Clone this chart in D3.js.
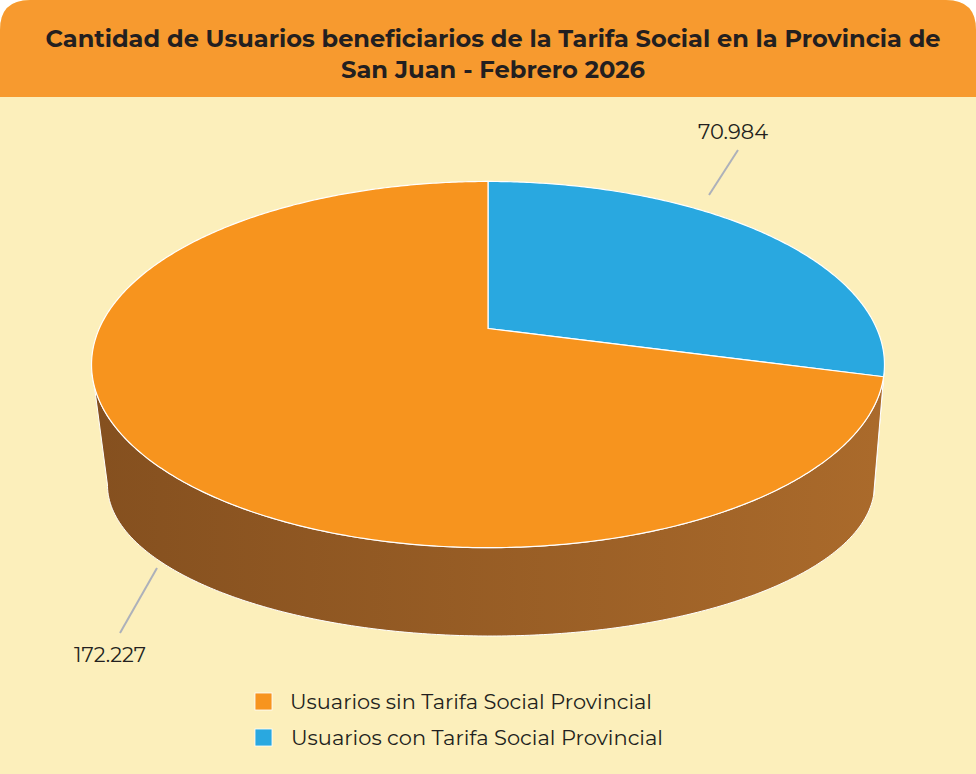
<!DOCTYPE html>
<html lang="es">
<head>
    <meta charset="UTF-8">
    <title>Tarifa Social San Juan</title>
    <script src="https://cdn.jsdelivr.net/npm/d3@7/dist/d3.min.js"></script>
    <style>
        body { margin: 0; background: #ffffff; }
        text { font-family: "Montserrat", "Open Sans", "Noto Sans", sans-serif; fill: #231f20; }
    </style>
</head>
<body>
    <svg width="976" height="774" id="mainsvg"></svg>
    <script>
        // datos
        const categories = ['Usuarios sin Tarifa Social Provincial', 'Usuarios con Tarifa Social Provincial']
        const values = [172227, 70984]
        const valueLabels = ['172.227', '70.984']
        const colors = ['#f7941e', '#29a8e0']
        const wallColors = [['#85501f', '#aa6a2b'], ['#16688c', '#1f86b4']]
        const titleLines = ['Cantidad de Usuarios beneficiarios de la Tarifa Social en la Provincia de', 'San Juan - Febrero 2026']

        const svg = d3.select('#mainsvg')
        const width = +svg.attr('width')
        const height = +svg.attr('height')

        // tarjeta
        const r = 30
        svg.append('path')
            .attr('d', `M0,${r} Q0,0 ${r},0 L${width - r},0 Q${width},0 ${width},${r} L${width},${height} L0,${height} Z`)
            .attr('fill', '#fcefbb')
        svg.append('path')
            .attr('d', `M0,${r} Q0,0 ${r},0 L${width - r},0 Q${width},0 ${width},${r} L${width},97 L0,97 Z`)
            .attr('fill', '#f79a2f')

        svg.selectAll('.title').data(titleLines).join('text')
            .attr('class', 'title')
            .attr('x', 493)
            .attr('y', (d, i) => 47 + i * 31)
            .attr('text-anchor', 'middle')
            .attr('font-size', 24)
            .attr('font-weight', 700)
            .attr('textLength', (d, i) => i === 0 ? 895 : 304)
            .attr('lengthAdjust', 'spacingAndGlyphs')
            .text(d => d)

        // proyección en perspectiva del disco (unidad -> píxeles)
        const p = 0.197
        const topX = d3.scaleLinear().domain([-1, 1]).range([488 - 388.7, 488 + 388.7])
        const topY = d3.scaleLinear().domain([-1, 1]).range([328.5 + 176, 328.5 - 176])
        const botX = d3.scaleLinear().domain([-1, 1]).range([491 - 376, 491 + 376])
        const botY = d3.scaleLinear().domain([-1, 1]).range([455.2 + 145.2, 455.2 - 145.2])
        const proj = (a, sx, sy) => {
            const w = 1 + p * Math.cos(a)
            return [sx(Math.sin(a) / w), sy(Math.cos(a) / w)]
        }
        const angles = (a0, a1) => {
            const n = Math.max(2, Math.ceil(Math.abs(a1 - a0) / 0.01))
            return d3.range(n + 1).map(i => a0 + (a1 - a0) * i / n)
        }
        const line = d3.line()

        // orden de dibujo: azul desde las 12 en sentido horario
        const order = [1, 0]
        const pie = d3.pie().sort(null).value(i => values[i])
        const arcs = pie(order)

        const defs = svg.append('defs')
        wallColors.forEach((c, i) => {
            const grad = defs.append('linearGradient')
                .attr('id', 'wall' + i)
                .attr('gradientUnits', 'userSpaceOnUse')
                .attr('x1', topX(-1)).attr('x2', topX(1))
                .attr('y1', 0).attr('y2', 0)
            grad.append('stop').attr('offset', 0).attr('stop-color', c[0])
            grad.append('stop').attr('offset', 1).attr('stop-color', c[1])
        })

        const g = svg.append('g')

        // paredes visibles (frente)
        const aR = Math.acos(-p)
        const aL = 2 * Math.PI - aR
        arcs.forEach(d => {
            const s = Math.max(d.startAngle, aR)
            const e = Math.min(d.endAngle, aL)
            if (e <= s) return
            const pts = angles(s, e).map(a => proj(a, topX, topY))
                .concat(angles(e, s).map(a => proj(a, botX, botY)))
            g.append('path')
                .attr('d', line(pts) + 'Z')
                .attr('fill', `url(#wall${d.data})`)
                .attr('stroke', '#ffffff')
                .attr('stroke-width', 1)
        })

        // caras superiores
        const center = [topX(0), topY(0)]
        arcs.forEach(d => {
            const pts = [center].concat(angles(d.startAngle, d.endAngle).map(a => proj(a, topX, topY)))
            g.append('path')
                .attr('d', line(pts) + 'Z')
                .attr('fill', colors[d.data])
                .attr('stroke', '#ffffff')
                .attr('stroke-width', 1.2)
                .attr('stroke-linejoin', 'round')
        })

        // etiquetas de valores
        const labelPos = [
            {x: 110, y: 662, l1: [157, 568], l2: [120, 633], len: 72},
            {x: 733, y: 139, l1: [738, 150], l2: [709, 195], len: 70}
        ]
        valueLabels.forEach((t, i) => {
            const lp = labelPos[i]
            g.append('line')
                .attr('x1', lp.l1[0]).attr('y1', lp.l1[1])
                .attr('x2', lp.l2[0]).attr('y2', lp.l2[1])
                .attr('stroke', '#adb1ba')
                .attr('stroke-width', 2)
            g.append('text')
                .attr('x', lp.x).attr('y', lp.y)
                .attr('text-anchor', 'middle')
                .attr('font-size', 20)
                .attr('textLength', lp.len)
                .attr('lengthAdjust', 'spacingAndGlyphs')
                .text(t)
        })

        // leyenda
        const legend = svg.append('g').attr('transform', 'translate(255, 693)')
        const items = legend.selectAll('g').data(categories).join('g')
            .attr('transform', (d, i) => `translate(0, ${i * 36})`)
        items.append('rect')
            .attr('width', 17).attr('height', 17)
            .attr('fill', (d, i) => colors[i])
            .attr('stroke', '#ffffff')
            .attr('stroke-width', 0.8)
        items.append('text')
            .attr('x', (d, i) => 35 + i)
            .attr('y', 16)
            .attr('font-size', 20)
            .attr('textLength', (d, i) => i === 0 ? 362 : 372)
            .attr('lengthAdjust', 'spacingAndGlyphs')
            .text(d => d)
    </script>
</body>
</html>
